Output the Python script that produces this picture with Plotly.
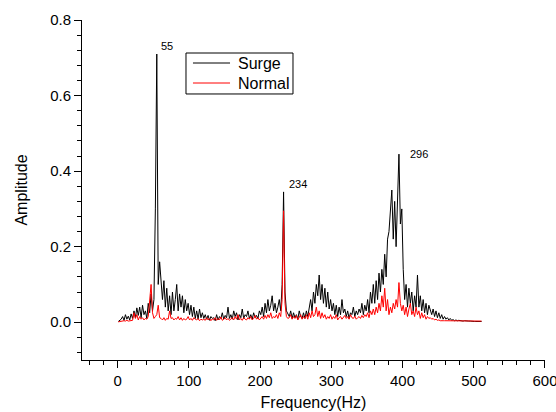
import numpy as np
import plotly.graph_objects as go

# sampling grid (Hz)
freq = np.arange(1, 512, 2)

surge = [
    0.002, 0.004, 0.008, 0.015, 0.005, 0.02, 0.008, 0.016, 0.006, 0.022,
    0.01, 0.03, 0.012, 0.038, 0.018, 0.04, 0.012, 0.045, 0.02, 0.03,
    0.01, 0.05, 0.025, 0.075, 0.03, 0.06, 0.3, 0.71, 0.1, 0.16,
    0.12, 0.06, 0.11, 0.04, 0.09, 0.03, 0.07, 0.02, 0.08, 0.03,
    0.06, 0.1, 0.03, 0.075, 0.04, 0.07, 0.025, 0.06, 0.03, 0.05,
    0.02, 0.045, 0.015, 0.04, 0.01, 0.03, 0.008, 0.035, 0.012, 0.025,
    0.01, 0.02, 0.008, 0.018, 0.005, 0.015, 0.01, 0.012, 0.004, 0.02,
    0.006, 0.015, 0.01, 0.025, 0.008, 0.018, 0.012, 0.04, 0.01, 0.02,
    0.008, 0.03, 0.015, 0.025, 0.006, 0.02, 0.012, 0.035, 0.01, 0.02,
    0.015, 0.03, 0.01, 0.02, 0.008, 0.025, 0.012, 0.018, 0.01, 0.03,
    0.02, 0.04, 0.015, 0.05, 0.025, 0.06, 0.03, 0.045, 0.07, 0.03,
    0.05, 0.025, 0.04, 0.06, 0.03, 0.1, 0.345, 0.08, 0.03, 0.02,
    0.015, 0.03, 0.01, 0.025, 0.012, 0.02, 0.008, 0.03, 0.015, 0.01,
    0.025, 0.01, 0.03, 0.015, 0.04, 0.06, 0.03, 0.08, 0.05, 0.1,
    0.07, 0.125, 0.06, 0.1, 0.05, 0.09, 0.04, 0.08, 0.035, 0.06,
    0.03, 0.05, 0.02, 0.045, 0.015, 0.04, 0.02, 0.06, 0.025, 0.035,
    0.015, 0.03, 0.01, 0.025, 0.02, 0.04, 0.015, 0.03, 0.02, 0.035,
    0.025, 0.05, 0.02, 0.045, 0.03, 0.06, 0.025, 0.08, 0.05, 0.1,
    0.05, 0.11, 0.06, 0.13, 0.08, 0.14, 0.1, 0.18, 0.12, 0.22,
    0.24, 0.3, 0.35, 0.22, 0.32, 0.2, 0.33, 0.445, 0.26, 0.3,
    0.14, 0.06, 0.1, 0.04, 0.09, 0.05, 0.08, 0.03, 0.07, 0.04,
    0.125, 0.04, 0.07, 0.03, 0.06, 0.025, 0.05, 0.02, 0.045, 0.03,
    0.02, 0.035, 0.015, 0.03, 0.012, 0.025, 0.01, 0.02, 0.008, 0.015,
    0.008, 0.012, 0.006, 0.01, 0.005, 0.007, 0.004, 0.006, 0.004, 0.005,
    0.004, 0.004, 0.003, 0.004, 0.003, 0.003, 0.003, 0.003, 0.002, 0.003,
    0.002, 0.002, 0.002, 0.002, 0.002, 0.002,
]

normal = [
    0.001, 0.002, 0.003, 0.002, 0.004, 0.003, 0.005, 0.003, 0.004, 0.006,
    0.005, 0.025, 0.01, 0.02, 0.006, 0.015, 0.008, 0.012, 0.006, 0.01,
    0.008, 0.015, 0.06, 0.1, 0.025, 0.01, 0.015, 0.02, 0.045, 0.012,
    0.01, 0.006, 0.012, 0.005, 0.01, 0.008, 0.03, 0.01, 0.012, 0.006,
    0.01, 0.008, 0.015, 0.006, 0.012, 0.005, 0.01, 0.006, 0.008, 0.015,
    0.006, 0.01, 0.005, 0.012, 0.008, 0.006, 0.01, 0.004, 0.008, 0.006,
    0.008, 0.005, 0.012, 0.006, 0.01, 0.004, 0.009, 0.006, 0.012, 0.005,
    0.01, 0.006, 0.014, 0.005, 0.008, 0.012, 0.006, 0.01, 0.005, 0.009,
    0.012, 0.006, 0.015, 0.008, 0.02, 0.006, 0.01, 0.005, 0.012, 0.008,
    0.006, 0.012, 0.008, 0.015, 0.006, 0.01, 0.018, 0.008, 0.012, 0.006,
    0.01, 0.015, 0.008, 0.018, 0.01, 0.02, 0.012, 0.025, 0.01, 0.015,
    0.012, 0.02, 0.01, 0.025, 0.015, 0.06, 0.295, 0.05, 0.015, 0.01,
    0.012, 0.02, 0.008, 0.015, 0.01, 0.018, 0.006, 0.012, 0.02, 0.008,
    0.015, 0.01, 0.02, 0.008, 0.025, 0.012, 0.03, 0.015, 0.02, 0.04,
    0.015, 0.03, 0.01, 0.025, 0.012, 0.02, 0.008, 0.015, 0.01, 0.02,
    0.008, 0.015, 0.01, 0.02, 0.006, 0.012, 0.015, 0.008, 0.012, 0.018,
    0.01, 0.015, 0.008, 0.02, 0.012, 0.01, 0.016, 0.008, 0.012, 0.015,
    0.01, 0.018, 0.012, 0.02, 0.015, 0.025, 0.012, 0.03, 0.02, 0.035,
    0.02, 0.04, 0.025, 0.05, 0.03, 0.07, 0.04, 0.09, 0.03, 0.06,
    0.02, 0.04, 0.025, 0.05, 0.035, 0.06, 0.04, 0.105, 0.05, 0.03,
    0.045, 0.02, 0.04, 0.015, 0.035, 0.05, 0.02, 0.03, 0.015, 0.04,
    0.02, 0.03, 0.01, 0.025, 0.012, 0.02, 0.008, 0.015, 0.01, 0.012,
    0.008, 0.01, 0.006, 0.008, 0.005, 0.006, 0.004, 0.005, 0.004, 0.004,
    0.004, 0.003, 0.004, 0.003, 0.004, 0.003, 0.003, 0.003, 0.003, 0.003,
    0.003, 0.003, 0.003, 0.003, 0.003, 0.003, 0.003, 0.003, 0.003, 0.003,
    0.003, 0.003, 0.003, 0.003, 0.003, 0.003,
]

series_names = ["Surge", "Normal"]
series_colors = ["black", "#ff0000"]

peak_labels = ["55", "234", "296"]
peak_freq = [55, 233, 395]
peak_amp = [0.71, 0.345, 0.445]

FONT = "Liberation Sans, Arial, sans-serif"

fig = go.Figure()
for name, vals, col in zip(series_names, [surge, normal], series_colors):
    fig.add_trace(go.Scatter(x=freq, y=vals, mode="lines", name=name,
                             line=dict(color=col, width=1)))

shifts = [(2, 0, "bottom"), (3, 0, "bottom"), (9, 0, "middle")]
for lab, fx, fy, (dx, dy, ya) in zip(peak_labels, peak_freq, peak_amp, shifts):
    fig.add_annotation(x=fx, y=fy, text=lab, showarrow=False, xanchor="left",
                       yanchor=ya, xshift=dx, yshift=dy,
                       font=dict(size=11, color="black", family=FONT))

# legend box drawn in paper coordinates (Origin-style compact legend)
fig.add_shape(type="rect", xref="paper", yref="paper",
              x0=0.2246, x1=0.4557, y0=0.7824, y1=0.9029,
              line=dict(color="black", width=1), fillcolor="white", layer="above")
leg_y = [0.8735, 0.8147]
for name, col, yy in zip(series_names, series_colors, leg_y):
    fig.add_shape(type="line", xref="paper", yref="paper",
                  x0=0.2397, x1=0.3197, y0=yy, y1=yy,
                  line=dict(color=col, width=1), layer="above")
    fig.add_annotation(xref="paper", yref="paper", x=0.3326, y=yy, text=name,
                       showarrow=False, xanchor="left", yanchor="middle",
                       font=dict(size=16, color="black", family=FONT))

axis_common = dict(showline=True, linecolor="black", linewidth=1,
                   ticks="outside", ticklen=7, tickwidth=1, tickcolor="black",
                   showgrid=False, zeroline=False, mirror=False, automargin=False,
                   ticklabeloverflow="allow",
                   tickfont=dict(size=15, color="black", family=FONT))

fig.update_xaxes(range=[-50, 600.05], tick0=0, dtick=100,
                 minor=dict(ticks="outside", ticklen=4, tickwidth=1,
                            tickcolor="black", dtick=20, tick0=0, showgrid=False),
                 title=dict(text="Frequency(Hz)", standoff=8,
                            font=dict(size=16, color="black", family=FONT)),
                 **axis_common)
fig.update_yaxes(range=[-0.1, 0.8001], tick0=0, dtick=0.2, tickformat=".1f",
                 minor=dict(ticks="outside", ticklen=4, tickwidth=1,
                            tickcolor="black", dtick=0.04, tick0=0, showgrid=False),
                 title=dict(text="Amplitude", standoff=18,
                            font=dict(size=16, color="black", family=FONT)),
                 **axis_common)

fig.update_layout(
    width=556, height=412,
    margin=dict(l=82, r=11, t=20, b=52, autoexpand=False),
    paper_bgcolor="white", plot_bgcolor="white",
    font=dict(family=FONT, color="black"),
    showlegend=False,
)

# remove the browser's default 8px body margin so the figure fills the window
fig.write_html("out.html",
               config={"displayModeBar": False, "staticPlot": True},
               post_script="document.body.style.margin='0';document.body.style.overflow='hidden';")
